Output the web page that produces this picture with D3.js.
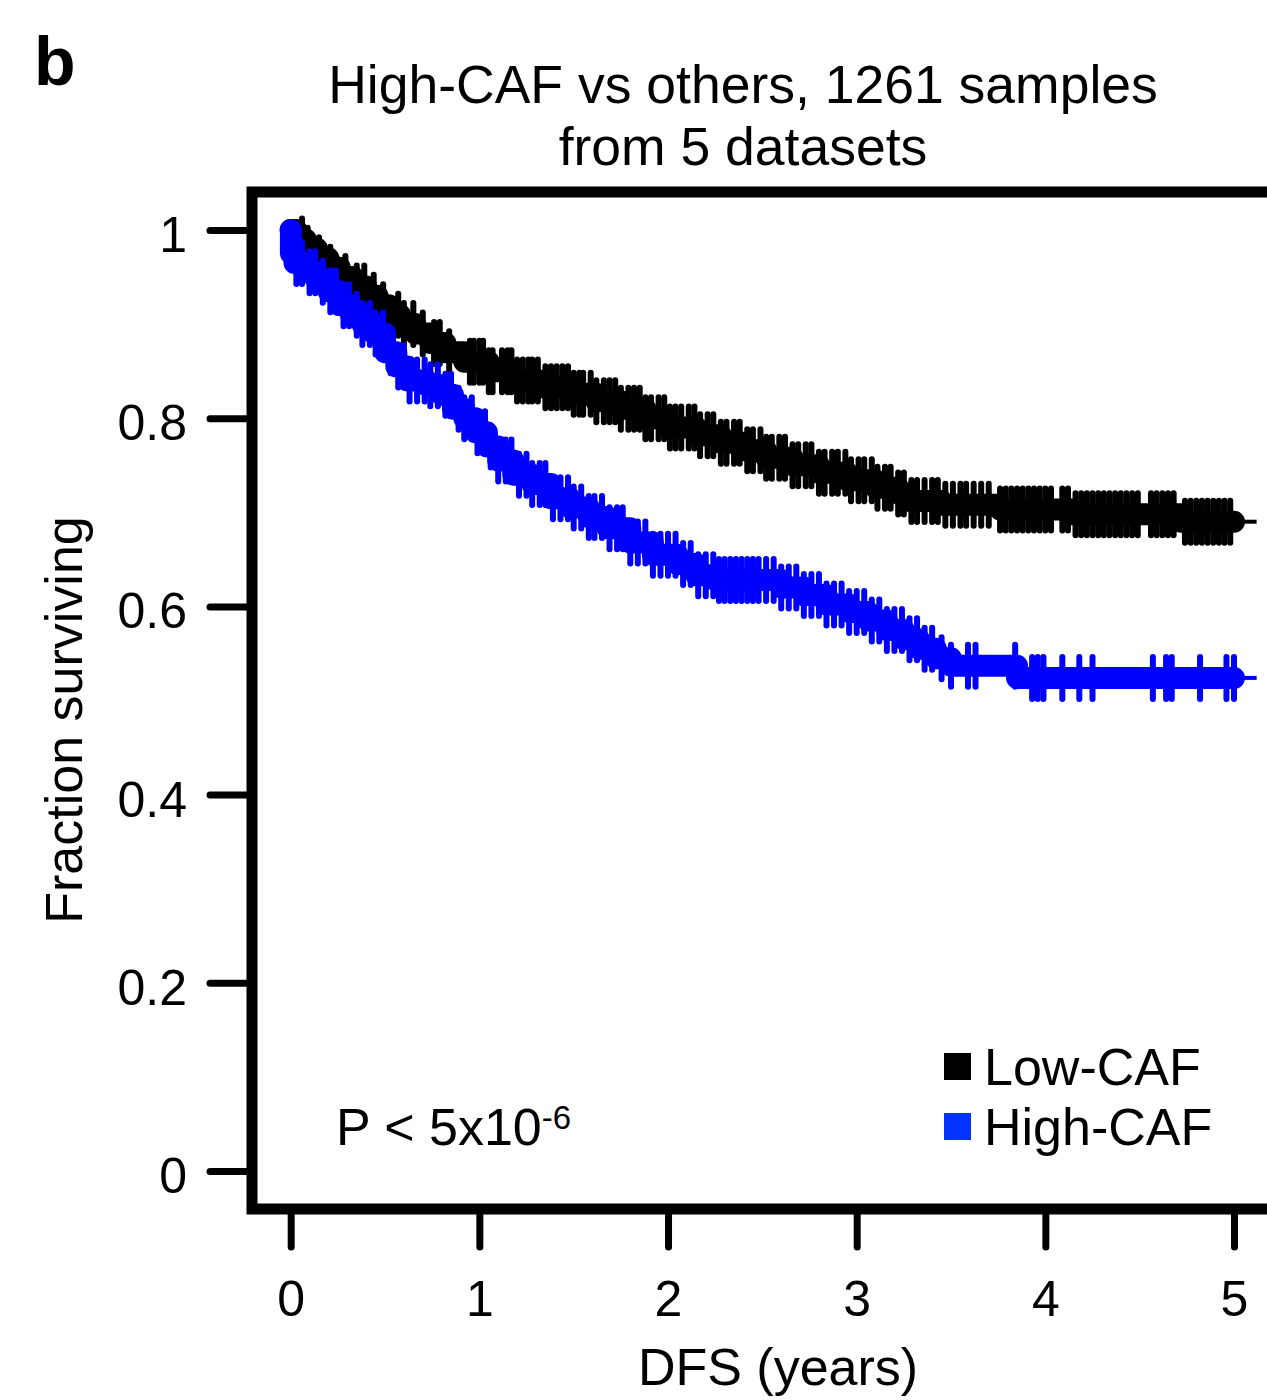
<!DOCTYPE html>
<html>
<head>
<meta charset="utf-8">
<script src="https://cdn.jsdelivr.net/npm/d3@7"></script>
<style>
  body { margin: 0; background: #fff; }
  svg { display: block; font-family: "Liberation Sans", Arial, sans-serif; }
  .tick text { font-size: 50px; fill: #000; }
</style>
</head>
<body>
<svg class="chart"></svg>
<script>
// Kaplan-Meier knots: [time (years), fraction surviving]
var lowTimes = [0, 0.03, 0.08, 0.14, 0.20, 0.26, 0.33, 0.40, 0.46, 0.52, 0.58, 0.66, 0.74, 0.82, 0.92,
                1.05, 1.18, 1.32, 1.50, 1.62, 1.75, 1.88, 2.00, 2.15, 2.28, 2.40, 2.52, 2.66, 2.80,
                2.95, 3.10, 3.22, 3.28, 3.45, 3.76, 4.14, 4.72];
var lowSurv  = [1.0, 0.99, 0.98, 0.97, 0.96, 0.95, 0.94, 0.93, 0.92, 0.91, 0.90, 0.89, 0.88, 0.87, 0.86,
                0.85, 0.84, 0.833, 0.826, 0.818, 0.81, 0.80, 0.79, 0.782, 0.774, 0.766, 0.758, 0.75, 0.742,
                0.734, 0.726, 0.72, 0.712, 0.708, 0.703, 0.698, 0.69];

var highTimes = [0, 0.001, 0.02, 0.08, 0.14, 0.20, 0.26, 0.32, 0.38, 0.44, 0.50, 0.56, 0.62, 0.72, 0.80,
                 0.86, 0.92, 0.98, 1.04, 1.10, 1.18, 1.28, 1.38, 1.48, 1.58, 1.68, 1.80, 1.92, 2.05,
                 2.15, 2.25, 2.60, 2.72, 2.84, 2.96, 3.06, 3.16, 3.25, 3.33, 3.42, 3.50, 3.85];
var highSurv  = [1.0, 0.975, 0.965, 0.955, 0.945, 0.935, 0.92, 0.91, 0.90, 0.89, 0.87, 0.855, 0.84, 0.835, 0.825,
                 0.81, 0.80, 0.785, 0.77, 0.755, 0.74, 0.73, 0.715, 0.705, 0.695, 0.683, 0.668, 0.655, 0.645,
                 0.633, 0.628, 0.62, 0.612, 0.602, 0.594, 0.585, 0.575, 0.565, 0.555, 0.545, 0.537, 0.524];

// censored samples (tick marks)
var lowCensor = [0.06, 0.09, 0.15, 0.21, 0.29, 0.35, 0.39, 0.44, 0.49, 0.57, 0.60, 0.65, 0.70, 0.76, 0.79, 0.84,
  0.95, 0.97, 1.00, 1.02, 1.05, 1.07, 1.12, 1.15, 1.17, 1.20, 1.23, 1.26, 1.28, 1.31, 1.35, 1.38, 1.41, 1.44,
  1.47, 1.50, 1.53, 1.55, 1.59, 1.62, 1.66, 1.69, 1.72, 1.75, 1.79, 1.82, 1.85, 1.88, 1.91, 1.95, 1.98, 2.01,
  2.04, 2.07, 2.11, 2.14, 2.17, 2.21, 2.24, 2.28, 2.31, 2.35, 2.38, 2.42, 2.45, 2.49, 2.52, 2.55, 2.59, 2.62,
  2.66, 2.69, 2.73, 2.76, 2.80, 2.83, 2.87, 2.90, 2.94, 2.97, 3.01, 3.04, 3.08, 3.11, 3.15, 3.18, 3.22, 3.25,
  3.29, 3.32, 3.36, 3.40, 3.43, 3.47, 3.51, 3.55, 3.58, 3.62, 3.66, 3.70, 3.76, 3.79, 3.82, 3.85, 3.88, 3.91,
  3.94, 3.97, 4.00, 4.03, 4.09, 4.12, 4.16, 4.19, 4.22, 4.25, 4.28, 4.31, 4.34, 4.37, 4.40, 4.43, 4.46, 4.49,
  4.56, 4.59, 4.62, 4.65, 4.68, 4.74, 4.77, 4.80, 4.83, 4.86, 4.89, 4.92, 4.95, 4.98];
var highCensor = [0.03, 0.06, 0.10, 0.13, 0.17, 0.21, 0.24, 0.28, 0.31, 0.35, 0.38, 0.42, 0.45, 0.49, 0.53,
  0.57, 0.60, 0.63, 0.67, 0.71, 0.74, 0.78, 0.82, 0.85, 0.89, 0.92, 0.96, 0.99, 1.03, 1.06, 1.10, 1.14, 1.17,
  1.21, 1.25, 1.28, 1.32, 1.35, 1.39, 1.43, 1.47, 1.50, 1.54, 1.58, 1.61, 1.65, 1.69, 1.73, 1.76, 1.80, 1.84,
  1.88, 1.92, 1.96, 2.00, 2.04, 2.08, 2.12, 2.16, 2.20, 2.24, 2.27, 2.30, 2.33, 2.36, 2.39, 2.42, 2.45, 2.48,
  2.52, 2.56, 2.60, 2.64, 2.68, 2.72, 2.76, 2.80, 2.84, 2.88, 2.92, 2.96, 3.00, 3.04, 3.08, 3.12, 3.16, 3.20,
  3.24, 3.28, 3.32, 3.36, 3.40, 3.45, 3.50, 3.59, 3.63, 3.84, 3.93, 3.96, 3.99, 4.09, 4.18, 4.25, 4.57, 4.64,
  4.67, 4.82, 4.96, 5.00];

var followUp = 5.0;
var xTicks = [0, 1, 2, 3, 4, 5];
var yTicks = [0, 0.2, 0.4, 0.6, 0.8, 1];
var groups = ["Low-CAF", "High-CAF"];
var curveColors = ["#000000", "#0000ff"];
var legendColors = ["#000000", "#0433ff"];

var width = 1267, height = 1400;

var chart = d3.select(".chart").attr("width", width).attr("height", height);
chart.append("rect").attr("width", width).attr("height", height).attr("fill", "#fff");

var x = d3.scaleLinear().domain([0, 5]).range([290.7, 1234]);
var y = d3.scaleLinear().domain([0, 1]).range([1171, 230]);

// panel letter + title
chart.append("text").attr("x", 34).attr("y", 85)
    .attr("font-size", 68).attr("font-weight", "bold").text("b");
chart.append("text").attr("x", 743).attr("text-anchor", "middle").attr("font-size", 53.5)
    .selectAll("tspan")
    .data(["High-CAF vs others, 1261 samples", "from 5 datasets"])
    .enter().append("tspan")
    .attr("x", 743).attr("y", function(d, i) { return 103 + i * 62; })
    .text(function(d) { return d; });

// axes
var xAxis = chart.append("g").attr("transform", "translate(0,1215)")
    .call(d3.axisBottom(x).tickValues(xTicks).tickSize(32).tickPadding(33).tickFormat(d3.format("d")));
var yAxis = chart.append("g").attr("transform", "translate(247,0)")
    .call(d3.axisLeft(y).tickValues(yTicks).tickSize(37).tickPadding(23)
        .tickFormat(function(d) { return String(d); }));
[xAxis, yAxis].forEach(function(a) {
    a.attr("font-size", null).attr("font-family", null);
    a.select(".domain").remove();
    a.selectAll(".tick line").attr("stroke", "#000").attr("stroke-width", 7).attr("stroke-linecap", "round");
});
yAxis.selectAll(".tick text").attr("dy", "0.43em");

chart.append("text").attr("x", 778).attr("y", 1385).attr("text-anchor", "middle")
    .attr("font-size", 52).text("DFS (years)");
chart.append("text").attr("transform", "translate(82,720) rotate(-90)").attr("text-anchor", "middle")
    .attr("font-size", 52).text("Fraction surviving");

// curves
var series = [
    {times: lowTimes, surv: lowSurv, censor: lowCensor},
    {times: highTimes, surv: highSurv, censor: highCensor}
];
var stepLine = d3.line().curve(d3.curveStepAfter)
    .x(function(d) { return x(d[0]); }).y(function(d) { return y(d[1]); });
var bis = d3.bisector(function(d) { return d; }).right;

var plot = chart.append("g").attr("class", "km");
series.forEach(function(s, gi) {
    var pts = s.times.map(function(t, i) { return [t, s.surv[i]]; });
    var last = s.surv[s.surv.length - 1];
    pts.push([followUp, last]);
    var g = plot.append("g").attr("stroke", curveColors[gi]).attr("fill", "none");
    g.append("path").attr("d", stepLine(pts))
        .attr("stroke-width", 22).attr("stroke-linejoin", "round").attr("stroke-linecap", "round");
    g.append("line")
        .attr("x1", x(followUp)).attr("x2", x(5.12))
        .attr("y1", y(last)).attr("y2", y(last)).attr("stroke-width", 4);
    g.selectAll("line.cens")
        .data(s.censor)
        .enter().append("line").attr("class", "cens")
        .attr("x1", function(d) { return x(d); }).attr("x2", function(d) { return x(d); })
        .attr("y1", function(d) { return y(s.surv[bis(s.times, d) - 1]) - 21; })
        .attr("y2", function(d) { return y(s.surv[bis(s.times, d) - 1]) + 21; })
        .attr("stroke-width", 6).attr("stroke-linecap", "round");
});

// frame
chart.append("rect").attr("x", 252).attr("y", 192).attr("width", 1050).attr("height", 1017)
    .attr("fill", "none").attr("stroke", "#000").attr("stroke-width", 11);

// p-value
var pv = chart.append("text").attr("x", 336).attr("y", 1145).attr("font-size", 52);
pv.append("tspan").text("P < 5x10");
pv.append("tspan").attr("font-size", 33).attr("dy", -16).text("-6");

// legend
var leg = chart.append("g").selectAll("g")
    .data(groups)
    .enter().append("g")
    .attr("transform", function(d, i) { return "translate(944," + (1053 + i * 60) + ")"; });
leg.append("rect").attr("width", 27).attr("height", 27)
    .attr("fill", function(d, i) { return legendColors[i]; });
leg.append("text").attr("x", 40).attr("y", 32).attr("font-size", 52)
    .text(function(d) { return d; });
</script>
</body>
</html>
